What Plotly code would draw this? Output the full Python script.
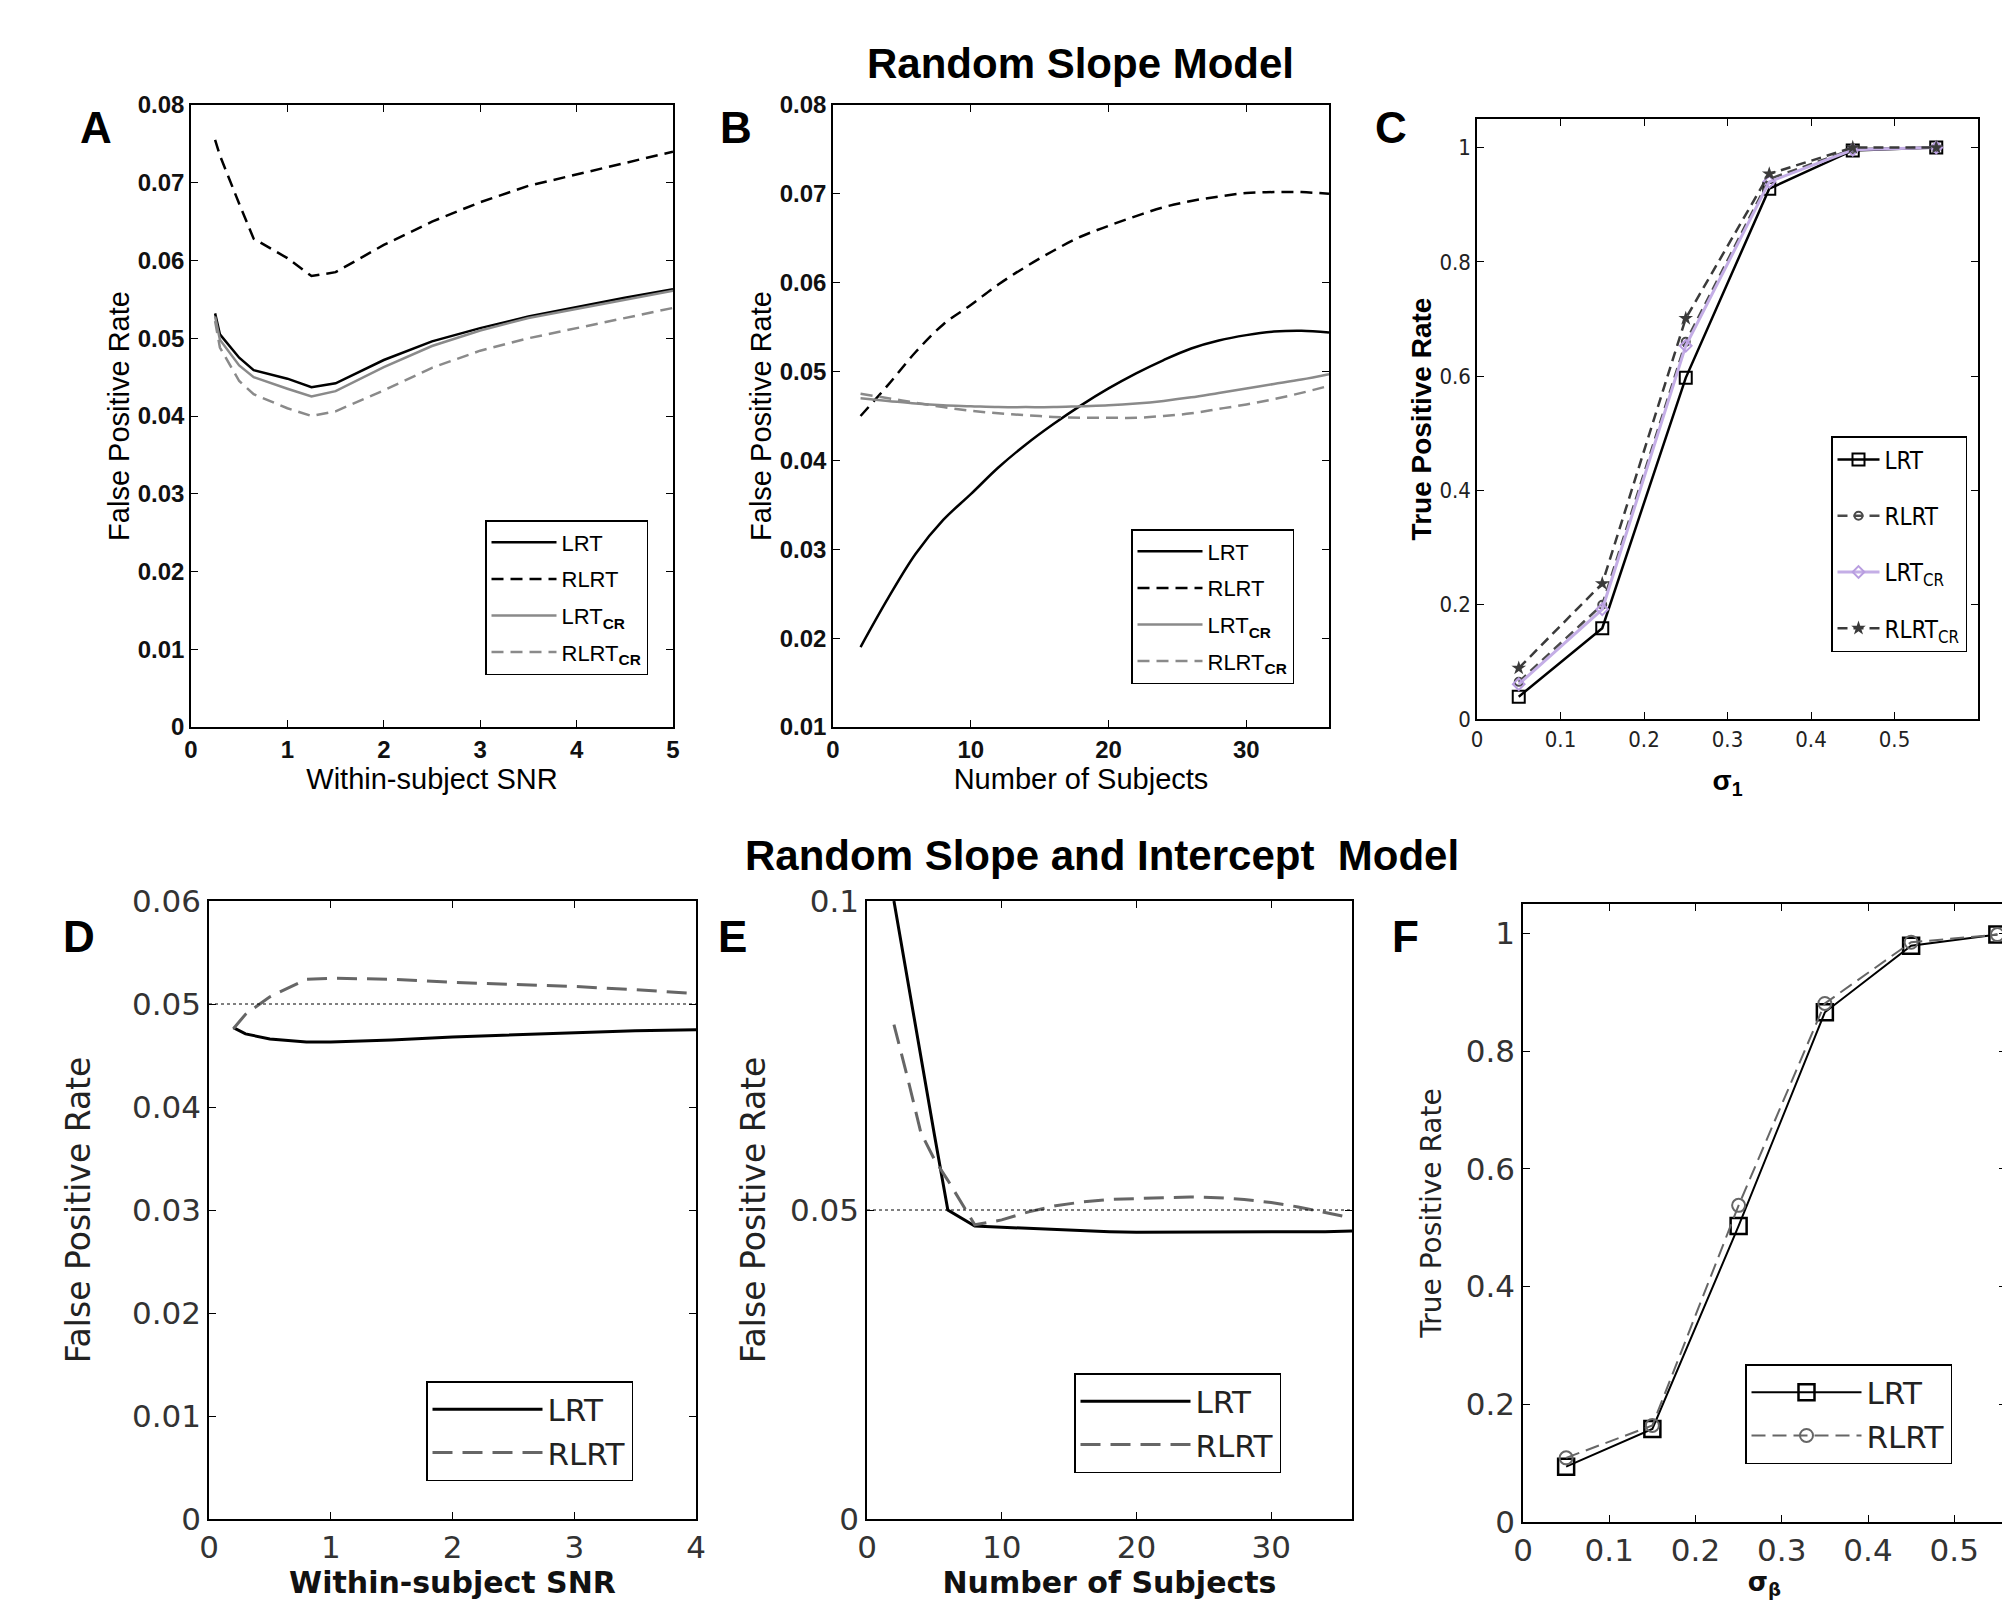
import plotly.graph_objects as go

# ------------------------------------------------------------------ data
# Panel A : Random slope model, FPR vs within-subject SNR
a_snr = [0.25, 0.3, 0.5, 0.65, 1.0, 1.25, 1.5, 2.0, 2.5, 3.0, 3.5, 4.0, 4.5, 5.0]
a_lrt = [0.0532, 0.0505, 0.0475, 0.0459, 0.0448, 0.0437, 0.0442, 0.0472, 0.0496, 0.0513, 0.0528, 0.0540, 0.0552, 0.0563]
a_rlrt = [0.0755, 0.0735, 0.0673, 0.0628, 0.0603, 0.0580, 0.0585, 0.0620, 0.0650, 0.0675, 0.0696, 0.0711, 0.0726, 0.0740]
a_lrt_cr = [0.0528, 0.0498, 0.0465, 0.0450, 0.0435, 0.0425, 0.0432, 0.0463, 0.0490, 0.0510, 0.0526, 0.0538, 0.0550, 0.0561]
a_rlrt_cr = [0.0522, 0.0488, 0.0445, 0.0428, 0.0410, 0.0400, 0.0406, 0.0433, 0.0462, 0.0484, 0.0500, 0.0513, 0.0526, 0.0539]

# Panel B : Random slope model, FPR vs number of subjects
b_n = [2, 4, 6, 8, 10, 12, 14, 16, 18, 20, 22, 24, 26, 28, 30, 32, 34, 36]
b_lrt = [0.0190, 0.0245, 0.0295, 0.0333, 0.0362, 0.0392, 0.0418, 0.0441, 0.0462, 0.0481, 0.0498, 0.0513, 0.0526, 0.0535, 0.0541, 0.0545, 0.0546, 0.0544]
b_rlrt = [0.0450, 0.0485, 0.0522, 0.0553, 0.0575, 0.0598, 0.0618, 0.0636, 0.0652, 0.0664, 0.0675, 0.0685, 0.0692, 0.0697, 0.0701, 0.0702, 0.0702, 0.0700]
b_lrt_cr = [0.0470, 0.0467, 0.0464, 0.0462, 0.0461, 0.0460, 0.0460, 0.0460, 0.0461, 0.0462, 0.0464, 0.0467, 0.0471, 0.0476, 0.0481, 0.0486, 0.0491, 0.0497]
b_rlrt_cr = [0.0475, 0.0470, 0.0465, 0.0460, 0.0456, 0.0453, 0.0451, 0.0449, 0.0448, 0.0448, 0.0448, 0.0450, 0.0453, 0.0458, 0.0463, 0.0469, 0.0476, 0.0484]

# Panel C : Random slope model, TPR vs sigma_1
c_sigma = [0.05, 0.15, 0.25, 0.35, 0.45, 0.55]
c_lrt = [0.039, 0.159, 0.597, 0.928, 0.995, 1.0]
c_rlrt = [0.065, 0.200, 0.660, 0.945, 0.997, 1.0]
c_lrt_cr = [0.061, 0.192, 0.653, 0.940, 0.996, 1.0]
c_rlrt_cr = [0.089, 0.237, 0.701, 0.954, 1.0, 1.0]

# Panel D : Random slope and intercept model, FPR vs SNR
d_snr = [0.2, 0.3, 0.5, 0.8, 1.0, 1.5, 2.0, 2.5, 3.0, 3.5, 4.0]
d_lrt = [0.0477, 0.0471, 0.0466, 0.0463, 0.0463, 0.0465, 0.0468, 0.0470, 0.0472, 0.0474, 0.0475]
d_rlrt = [0.0476, 0.0490, 0.0507, 0.0524, 0.0525, 0.0524, 0.0521, 0.0519, 0.0517, 0.0514, 0.0510]

# Panel E : Random slope and intercept model, FPR vs number of subjects
e_n = [2, 3, 4, 5, 6, 8, 10, 12, 14, 16, 18, 20, 22, 24, 26, 28, 30, 32, 34, 36]
e_lrt = [0.1000, 0.0872, 0.0745, 0.0622, 0.0500, 0.0474, 0.0472, 0.0470, 0.0468, 0.0466, 0.0465, 0.0464, 0.0464, 0.0464, 0.0464, 0.0464, 0.0464, 0.0465, 0.0465, 0.0466]
e_rlrt = [0.0800, 0.0715, 0.0625, 0.0582, 0.0548, 0.0476, 0.0484, 0.0497, 0.0507, 0.0513, 0.0517, 0.0519, 0.0520, 0.0521, 0.0520, 0.0517, 0.0512, 0.0505, 0.0496, 0.0487]

# Panel F : Random slope and intercept model, TPR vs sigma_beta
f_sigma = [0.05, 0.15, 0.25, 0.35, 0.45, 0.55]
f_lrt = [0.094, 0.158, 0.503, 0.866, 0.979, 0.998]
f_rlrt = [0.109, 0.164, 0.538, 0.881, 0.985, 0.998]

nominal_rate = 0.05

# tick values
a_xticks = [0, 1, 2, 3, 4, 5]
a_yticks = [0, 0.01, 0.02, 0.03, 0.04, 0.05, 0.06, 0.07, 0.08]
b_xticks = [0, 10, 20, 30]
b_yticks = [0.01, 0.02, 0.03, 0.04, 0.05, 0.06, 0.07, 0.08]
c_xticks = [0, 0.1, 0.2, 0.3, 0.4, 0.5]
c_yticks = [0, 0.2, 0.4, 0.6, 0.8, 1]
d_xticks = [0, 1, 2, 3, 4]
d_yticks = [0, 0.01, 0.02, 0.03, 0.04, 0.05, 0.06]
e_xticks = [0, 10, 20, 30]
e_yticks = [0, 0.05, 0.1]
f_xticks = [0, 0.1, 0.2, 0.3, 0.4, 0.5]
f_yticks = [0, 0.2, 0.4, 0.6, 0.8, 1]

# ------------------------------------------------------------------ styling
OFF = 8                      # page body margin
W, H = 2010 - OFF, 1600 - OFF
ARIAL = "Liberation Sans, Arial, sans-serif"
NARROW = "Liberation Sans Narrow, Arial Narrow, DejaVu Sans Condensed, Liberation Sans, sans-serif"
WIDE = "DejaVu Sans, Liberation Sans, sans-serif"
GRAY = "#8a8a8a"


def px_x(v):
    return (v - OFF) / W


def px_y(v):
    return 1 - (v - OFF) / H


def axis(domain, rng, ticks, title, tfont, lfont, standoff, **kw):
    d = dict(
        domain=domain, range=rng, tickvals=ticks, showline=True, linecolor="black",
        linewidth=1.5, mirror="ticks", ticks="inside", ticklen=7, tickwidth=1,
        tickcolor="black", showgrid=False, zeroline=False, tickfont=tfont,
        title=dict(text=title, font=lfont, standoff=standoff), automargin=False,
    )
    d.update(kw)
    return d


fig = go.Figure()


def add(x, y, name, ax, color, width, dash="solid", legend="legend", marker=None,
        mode="lines", shape="linear"):
    tr = dict(x=x, y=y, name=name, mode=mode, xaxis="x" + ax, yaxis="y" + ax,
              line=dict(color=color, width=width, dash=dash, shape=shape), legend=legend,
              legendgroup=legend + name)
    if marker is not None:
        tr["marker"] = marker
    fig.add_trace(go.Scatter(**tr))


# Panel A
add(a_snr, a_lrt, "LRT", "", "black", 2.5, legend="legend")
add(a_snr, a_rlrt, "RLRT", "", "black", 2.5, "12px,7px", legend="legend")
add(a_snr, a_lrt_cr, "LRT<sub><b>CR</b></sub>", "", GRAY, 2.5, legend="legend")
add(a_snr, a_rlrt_cr, "RLRT<sub><b>CR</b></sub>", "", GRAY, 2.5, "12px,7px", legend="legend")
# Panel B
add(b_n, b_lrt, "LRT", "2", "black", 2.5, legend="legend2", shape="spline")
add(b_n, b_rlrt, "RLRT", "2", "black", 2.5, "12px,7px", legend="legend2", shape="spline")
add(b_n, b_lrt_cr, "LRT<sub><b>CR</b></sub>", "2", GRAY, 2.5, legend="legend2", shape="spline")
add(b_n, b_rlrt_cr, "RLRT<sub><b>CR</b></sub>", "2", GRAY, 2.5, "12px,7px", legend="legend2", shape="spline")
# Panel C
add(c_sigma, c_lrt, "LRT", "3", "black", 2.5, legend="legend3", mode="lines+markers",
    marker=dict(symbol="square-open", size=12, color="black", line=dict(width=2)))
add(c_sigma, c_rlrt, "RLRT", "3", "#4a4a4a", 2.5, "10px,6px", legend="legend3", mode="lines+markers",
    marker=dict(symbol="circle-open", size=8, color="#4a4a4a", line=dict(width=2)))
add(c_sigma, c_lrt_cr, "LRT<sub>CR</sub>", "3", "#c4aee6", 3, legend="legend3", mode="lines+markers",
    marker=dict(symbol="diamond-open", size=9, color="#b99ee0", line=dict(width=2)))
add(c_sigma, c_rlrt_cr, "RLRT<sub>CR</sub>", "3", "#3a3a3a", 2.5, "10px,6px", legend="legend3", mode="lines+markers",
    marker=dict(symbol="star", size=11, color="#3a3a3a"))
# Panel D
add(d_snr, d_lrt, "LRT", "4", "black", 3, legend="legend4")
add(d_snr, d_rlrt, "RLRT", "4", "#666666", 3, "20px,10px", legend="legend4")
# Panel E
add(e_n, e_lrt, "LRT", "5", "black", 3, legend="legend5")
add(e_n, e_rlrt, "RLRT", "5", "#666666", 3, "20px,10px", legend="legend5")
# Panel F
add(f_sigma, f_lrt, "LRT", "6", "black", 2, legend="legend6", mode="lines+markers",
    marker=dict(symbol="square-open", size=16, color="black", line=dict(width=2.5)))
add(f_sigma, f_rlrt, "RLRT", "6", "#666666", 2, "14px,7px", legend="legend6", mode="lines+markers",
    marker=dict(symbol="circle-open", size=13, color="#666666", line=dict(width=2)))

# nominal 5% reference lines for D and E
for ax in ("4", "5"):
    fig.add_shape(type="line", xref="x%s domain" % ax, x0=0, x1=1, yref="y" + ax,
                  y0=nominal_rate, y1=nominal_rate, line=dict(color="black", width=1, dash="dot"))

# ------------------------------------------------------------------ axes
top_tick = dict(family=ARIAL, size=24, color="#111111", weight="bold")
top_title = dict(family=ARIAL, size=29, color="black")
c_tick = dict(family=NARROW, size=22, color="#222222")
c_title = dict(family=ARIAL, size=28, color="black", weight="bold")
bot_tick = dict(family=WIDE, size=31, color="#333333")
bot_ytitle = dict(family=WIDE, size=33, color="#222222")
f_ytitle = dict(family=WIDE, size=28, color="#222222")
bot_xtitle = dict(family=WIDE, size=30, color="#111111", weight="bold")
f_xtitle = dict(family=WIDE, size=26, color="#111111", weight="bold")

yA = [px_y(727), px_y(105)]
yC = [px_y(719), px_y(119)]
yD = [px_y(1519), px_y(901)]
yF = [px_y(1522), px_y(904)]

layout_axes = dict(
    xaxis=axis([px_x(191), px_x(673)], [0, 5], a_xticks, "Within-subject SNR", top_tick, top_title, 6, anchor="y"),
    yaxis=axis(yA, [0, 0.08], a_yticks, "False Positive Rate", top_tick, top_title, 0, anchor="x"),
    xaxis2=axis([px_x(833), px_x(1329)], [0, 36], b_xticks, "Number of Subjects", top_tick, top_title, 6, anchor="y2"),
    yaxis2=axis(yA, [0.01, 0.08], b_yticks, "False Positive Rate", top_tick, top_title, 0, anchor="x2"),
    xaxis3=axis([px_x(1477), px_x(1978)], [0, 0.6], c_xticks, "<b>σ<sub>1</sub></b>", c_tick, c_title, 19, anchor="y3"),
    yaxis3=axis(yC, [0, 1.05], c_yticks, "True Positive Rate", c_tick, c_title, 0, anchor="x3"),
    xaxis4=axis([px_x(209), px_x(696)], [0, 4], d_xticks, "Within-subject SNR", bot_tick, bot_xtitle, 4, anchor="y4"),
    yaxis4=axis(yD, [0, 0.06], d_yticks, "False Positive Rate", bot_tick, bot_ytitle, 31, anchor="x4"),
    xaxis5=axis([px_x(867), px_x(1352)], [0, 36], e_xticks, "Number of Subjects", bot_tick, bot_xtitle, 4, anchor="y5"),
    yaxis5=axis(yD, [0, 0.1], e_yticks, "False Positive Rate", bot_tick, bot_ytitle, 14, anchor="x5"),
    xaxis6=axis([px_x(1523), px_x(2006)], [0, 0.56], f_xticks, "<b>σ<sub>β</sub></b>", bot_tick, f_xtitle, 8, anchor="y6"),
    yaxis6=axis(yF, [0, 1.05], f_yticks, "True Positive Rate", bot_tick, f_ytitle, 16, anchor="x6"),
)


def legend(x, y, font, itemwidth, gap):
    return dict(x=px_x(x), y=px_y(y), xanchor="left", yanchor="top", bgcolor="white",
                bordercolor="black", borderwidth=1.5, font=font, itemwidth=itemwidth,
                tracegroupgap=gap)


leg_top = dict(family=ARIAL, size=22, color="black")
leg_c = dict(family=NARROW, size=24, color="black")
leg_bot = dict(family=WIDE, size=31, color="#222222")

# ------------------------------------------------------------------ annotations
annotations = [
    dict(text="<b>Random Slope Model</b>", x=px_x(1080), y=px_y(63), font=dict(family=ARIAL, size=42, color="black")),
    dict(text="<b>Random Slope and Intercept  Model</b>", x=px_x(1102), y=px_y(855), font=dict(family=ARIAL, size=42, color="black")),
]
for letter, lx, ly in [("A", 96, 128), ("B", 736, 128), ("C", 1391, 128), ("D", 79, 936), ("E", 732, 936), ("F", 1405, 936)]:
    annotations.append(dict(text="<b>%s</b>" % letter, x=px_x(lx), y=px_y(ly), font=dict(family=ARIAL, size=44, color="black")))
for a in annotations:
    a.update(xref="paper", yref="paper", showarrow=False, xanchor="center", yanchor="middle")

fig.update_layout(
    width=W, height=H, margin=dict(l=0, r=0, t=0, b=0),
    paper_bgcolor="white", plot_bgcolor="white", showlegend=True,
    annotations=annotations,
    legend=legend(485, 520, leg_top, 65, 5),
    legend2=legend(1131, 529, leg_top, 65, 5),
    legend3=legend(1831, 436, leg_c, 42, 22),
    legend4=legend(426, 1381, leg_bot, 110, 0),
    legend5=legend(1074, 1373, leg_bot, 110, 0),
    legend6=legend(1745, 1364, leg_bot, 110, 0),
    **layout_axes,
)

fig.write_html("out.html")
